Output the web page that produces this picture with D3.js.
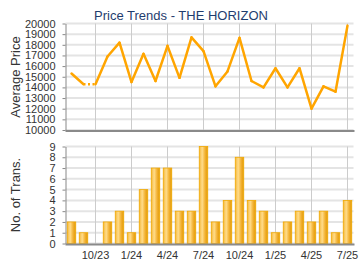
<!DOCTYPE html>
<html>
<head>
<meta charset="utf-8">
<script src="https://cdn.jsdelivr.net/npm/d3@7"></script>
<style>
  body { margin: 0; background: #fff; }
  svg { display: block; font-family: "Liberation Sans", Arial, sans-serif; }
</style>
</head>
<body>
<svg id="chart" width="360" height="270"></svg>
<script>
// months from 8/23 to 7/25
var months = ["8/23","9/23","10/23","11/23","12/23","1/24","2/24","3/24","4/24","5/24","6/24","7/24",
              "8/24","9/24","10/24","11/24","12/24","1/25","2/25","3/25","4/25","5/25","6/25","7/25"];
var avgPrice = [15300, 14300, 14300, 16900, 18200, 14500, 17150, 14600, 17900, 14900, 18700, 17400,
                14100, 15500, 18650, 14600, 14000, 15800, 14000, 15800, 12000, 14100, 13600, 19800];
var gapMonths = ["10/23"];   // no transactions: price carried, drawn dotted
var transCount = [2, 1, 0, 2, 3, 1, 5, 7, 7, 3, 3, 9, 2, 4, 8, 4, 3, 1, 2, 3, 2, 3, 1, 4];
var tickMonths = ["10/23","1/24","4/24","7/24","10/24","1/25","4/25","7/25"];
var priceTicks = d3.range(10000, 20001, 1000);
var countTicks = d3.range(0, 10, 1);

var svg = d3.select("#chart");

var left = 65.5, right = 353.5;
var x = d3.scaleBand().domain(months).range([left, right]).padding(0);
var cx = function(m) { return x(m) + x.bandwidth() / 2; };

var yP = d3.scaleLinear().domain([10000, 20000]).range([130, 23.5]);
var yC = d3.scaleLinear().domain([0, 9]).range([243.5, 146.5]);

// gradient for bars
var defs = svg.append("defs");
var grad = defs.append("linearGradient").attr("id", "barGrad")
    .attr("x1", "0%").attr("x2", "100%").attr("y1", "0%").attr("y2", "0%");
grad.append("stop").attr("offset", "0%").attr("stop-color", "#f4b73a");
grad.append("stop").attr("offset", "35%").attr("stop-color", "#ffdc8a");
grad.append("stop").attr("offset", "70%").attr("stop-color", "#f2b030");
grad.append("stop").attr("offset", "100%").attr("stop-color", "#e09a08");

// title
svg.append("text")
    .attr("x", 181).attr("y", 19.5)
    .attr("text-anchor", "middle")
    .attr("font-size", 13)
    .attr("fill", "#1f3d6e")
    .text("Price Trends - THE HORIZON");

function drawPanel(y, ticks, top, bottom, title, titleY) {
    var g = svg.append("g");
    // horizontal grid
    g.selectAll("line.h").data(ticks).enter().append("line")
        .attr("x1", left).attr("x2", right)
        .attr("y1", function(d) { return y(d); })
        .attr("y2", function(d) { return y(d); })
        .attr("stroke", "#e4e4e4").attr("stroke-width", 2);
    // vertical grid at quarter months
    g.selectAll("line.v").data(tickMonths).enter().append("line")
        .attr("x1", function(d) { return cx(d); })
        .attr("x2", function(d) { return cx(d); })
        .attr("y1", top).attr("y2", bottom)
        .attr("stroke", "#cccccc").attr("stroke-width", 1);
    // y axis
    var ax = g.append("g")
        .attr("transform", "translate(" + left + ",0)")
        .call(d3.axisLeft(y).tickValues(ticks).tickSize(3).tickSizeOuter(0).tickFormat(d3.format("d")));
    ax.select(".domain").attr("stroke", "#888");
    ax.selectAll(".tick line").attr("stroke", "#888");
    ax.selectAll(".tick text").attr("font-size", 11).attr("fill", "#333")
        .attr("font-family", "Liberation Sans, Arial, sans-serif").attr("x", -10);
    // axis title
    svg.append("text")
        .attr("transform", "translate(20," + titleY + ") rotate(-90)")
        .attr("text-anchor", "middle")
        .attr("font-size", 13)
        .attr("fill", "#333")
        .text(title);
    return g;
}

drawPanel(yP, priceTicks, 23.5, 130, "Average Price", 77);
drawPanel(yC, countTicks, 146.5, 243.5, "No. of Trans.", 195);

// price line, segment by segment
var segs = [];
for (var i = 1; i < months.length; i++) {
    segs.push({a: i - 1, b: i, dotted: gapMonths.indexOf(months[i]) >= 0});
}
svg.append("g").selectAll("line").data(segs).enter().append("line")
    .attr("x1", function(d) { return cx(months[d.a]); })
    .attr("y1", function(d) { return yP(avgPrice[d.a]); })
    .attr("x2", function(d) { return cx(months[d.b]); })
    .attr("y2", function(d) { return yP(avgPrice[d.b]); })
    .attr("stroke", "#ffa500")
    .attr("stroke-width", 2.5)
    .attr("stroke-dasharray", function(d) { return d.dotted ? "2,2.5" : null; })
    .attr("stroke-linecap", function(d) { return d.dotted ? "butt" : "round"; });

// bars
var bw = 8.5;
svg.append("g").selectAll("rect")
    .data(months.map(function(m, i) { return {m: m, v: transCount[i]}; }).filter(function(d) { return d.v > 0; }))
    .enter().append("rect")
    .attr("x", function(d) { return cx(d.m) - bw / 2; })
    .attr("y", function(d) { return yC(d.v); })
    .attr("width", bw)
    .attr("height", function(d) { return yC(0) - yC(d.v); })
    .attr("fill", "url(#barGrad)")
    .attr("stroke", "#f2a900")
    .attr("stroke-width", 0.8);

// bottom axis lines
[130, 243.5].forEach(function(yy) {
    svg.append("line").attr("x1", left).attr("x2", right + 1)
        .attr("y1", yy + 1).attr("y2", yy + 1)
        .attr("stroke", "#8a8a8a").attr("stroke-width", 2);
});

// x tick labels
svg.append("g").selectAll("text").data(tickMonths).enter().append("text")
    .attr("x", function(d) { return cx(d); })
    .attr("y", 259)
    .attr("text-anchor", "middle")
    .attr("font-size", 11)
    .attr("fill", "#333")
    .text(function(d) { return d; });
</script>
</body>
</html>
